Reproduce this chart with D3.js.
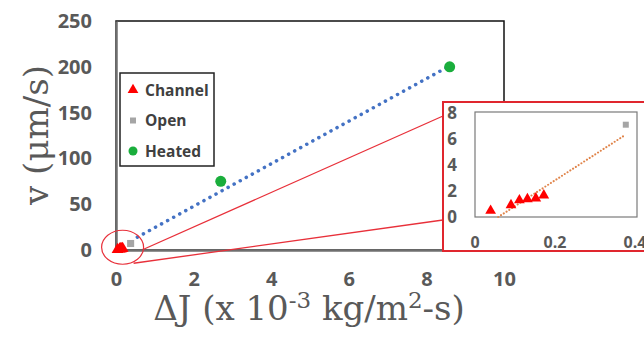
<!DOCTYPE html>
<html>
<head>
<meta charset="utf-8">
<script src="https://cdn.jsdelivr.net/npm/d3@7"></script>
<style>
  body { margin: 0; background: #fff; }
  svg { display: block; }
</style>
</head>
<body>
<div id="chart-container"></div>
<script>
// data (x in 10^-3 kg/m2-s, v in um/s)
const channelX = [0.039, 0.09, 0.111, 0.131, 0.152, 0.172];
const channelY = [0.49, 0.92, 1.3, 1.38, 1.44, 1.67];
const openX = [0.377];
const openY = [7.1];
const heatedX = [2.7, 8.6];
const heatedY = [75, 200];
const heatedTrendX = [0.55, 8.6];
const heatedTrendY = [14, 201];
const insetTrendX = [0.058, 0.375];
const insetTrendY = [0, 6.3];

const xTicks = [0, 2, 4, 6, 8, 10];
const yTicks = [0, 50, 100, 150, 200, 250];
const insetXTicks = [0, 0.2, 0.4];
const insetYTicks = [0, 2, 4, 6, 8];
const legendNames = ["Channel", "Open", "Heated"];

const W = 644, H = 345;
const grey = "#595959";
const red = "#ff0000", openCol = "#a5a5a5", green = "#1aae3c";

const svg = d3.select("#chart-container")
  .append("svg")
    .attr("width", W)
    .attr("height", H);

// main scales
const x = d3.scaleLinear().domain([0, 10]).range([116, 504]);
const y = d3.scaleLinear().domain([0, 250]).range([250, 21]);

// plot border (top/right black)
svg.append("rect")
  .attr("x", x(0)).attr("y", y(250))
  .attr("width", x(10) - x(0)).attr("height", y(0) - y(250))
  .attr("fill", "none").attr("stroke", "#111").attr("stroke-width", 1.5);

// axes
const xAxis = svg.append("g")
  .attr("transform", `translate(0,${y(0)})`)
  .call(d3.axisBottom(x).tickValues(xTicks).tickSize(0).tickPadding(22).tickFormat(d3.format("d")));
const yAxis = svg.append("g")
  .attr("transform", `translate(${x(0)},0)`)
  .call(d3.axisLeft(y).tickValues(yTicks).tickSize(0).tickPadding(24));
[xAxis, yAxis].forEach(g => {
  g.select(".domain").attr("stroke", "#6f6f6f").attr("stroke-width", 2.5);
  g.selectAll("text")
    .style("font-family", "'Open Sans', sans-serif")
    .style("font-weight", "bold")
    .style("font-size", "20px")
    .attr("fill", grey);
});

// axis titles
svg.append("text")
  .attr("transform", `translate(48,135) rotate(-90)`)
  .attr("text-anchor", "middle")
  .style("font-family", "'DejaVu Serif', serif")
  .style("font-size", "34px")
  .attr("fill", grey)
  .text("v (\u03bcm/s)");

const xt = svg.append("text")
  .attr("x", 309).attr("y", 320)
  .attr("text-anchor", "middle")
  .style("font-family", "'DejaVu Serif', serif")
  .style("font-size", "34px")
  .attr("fill", grey);
xt.append("tspan").text("\u0394J (x 10");
xt.append("tspan").attr("dy", -12).style("font-size", "23px").text("-3");
xt.append("tspan").attr("dy", 12).text(" kg/m");
xt.append("tspan").attr("dy", -12).style("font-size", "23px").text("2");
xt.append("tspan").attr("dy", 12).text("-s)");

// heated trendline
const line = d3.line().x(d => x(d[0])).y(d => y(d[1]));
svg.append("path")
  .datum(d3.zip(heatedTrendX, heatedTrendY))
  .attr("fill", "none")
  .attr("stroke", "#4472c4")
  .attr("stroke-width", 3.5)
  .attr("stroke-linecap", "round")
  .attr("stroke-dasharray", "0.1 6.8")
  .attr("d", line);

const tri = d3.symbol().type(d3.symbolTriangle);
const sq = d3.symbol().type(d3.symbolSquare);

// main markers
svg.selectAll(".ch")
  .data(d3.zip(channelX, channelY))
  .join("path")
    .attr("transform", d => `translate(${x(d[0])},${y(d[1])})`)
    .attr("d", tri.size(60))
    .attr("fill", red);
svg.selectAll(".op")
  .data(d3.zip(openX, openY))
  .join("path")
    .attr("transform", d => `translate(${x(d[0])},${y(d[1])})`)
    .attr("d", sq.size(50))
    .attr("fill", openCol);
svg.selectAll(".ht")
  .data(d3.zip(heatedX, heatedY))
  .join("circle")
    .attr("cx", d => x(d[0])).attr("cy", d => y(d[1]))
    .attr("r", 5.5)
    .attr("fill", green);

// legend
const lg = svg.append("g");
lg.append("rect")
  .attr("x", 120).attr("y", 73).attr("width", 94).attr("height", 93)
  .attr("fill", "#fff").attr("stroke", "#222").attr("stroke-width", 1.5);
legendNames.forEach((name, i) => {
  const cy = 90 + i * 30.5;
  if (i === 0) lg.append("path").attr("transform", `translate(133,${cy})`).attr("d", tri.size(50)).attr("fill", red);
  if (i === 1) lg.append("path").attr("transform", `translate(133,${cy})`).attr("d", sq.size(36)).attr("fill", openCol);
  if (i === 2) lg.append("circle").attr("cx", 133).attr("cy", cy).attr("r", 4.5).attr("fill", green);
  lg.append("text")
    .attr("x", 145).attr("y", cy).attr("dy", "0.36em")
    .style("font-family", "'Open Sans', sans-serif")
    .style("font-weight", "bold")
    .style("font-size", "15.5px")
    .attr("fill", "#404040")
    .text(name);
});

// inset scales
const ix = d3.scaleLinear().domain([0, 0.4]).range([475, 635]);
const iy = d3.scaleLinear().domain([0, 8]).range([217, 113]);

// zoom ellipse + connectors
const ecx = x(0.17), ecy = y(3);
svg.append("ellipse")
  .attr("cx", ecx).attr("cy", ecy).attr("rx", 21).attr("ry", 17)
  .attr("fill", "none").attr("stroke", "#e8303a").attr("stroke-width", 1.2);
svg.append("line")
  .attr("x1", ecx + 21).attr("y1", ecy + 2)
  .attr("x2", 443).attr("y2", iy(8) + 3)
  .attr("stroke", "#e8303a").attr("stroke-width", 1.3);
svg.append("line")
  .attr("x1", ecx + 11).attr("y1", ecy + 16)
  .attr("x2", 443).attr("y2", iy(0) + 3)
  .attr("stroke", "#e8303a").attr("stroke-width", 1.3);

// inset panel
const ins = svg.append("g");
ins.append("rect")
  .attr("x", 443).attr("y", 102).attr("width", 215).attr("height", 149)
  .attr("fill", "#fff").attr("stroke", "#e0262e").attr("stroke-width", 2);
ins.append("rect")
  .attr("x", ix(0)).attr("y", iy(8) - 1)
  .attr("width", ix(0.4) + 2 - ix(0)).attr("height", iy(0) - iy(8) + 1)
  .attr("fill", "none").attr("stroke", "#7a7a7a").attr("stroke-width", 1.2);

ins.selectAll(".iyt")
  .data(insetYTicks)
  .join("text")
    .attr("x", 457).attr("y", d => iy(d)).attr("dy", "0.36em")
    .attr("text-anchor", "end")
    .style("font-family", "'Open Sans', sans-serif")
    .style("font-weight", "bold")
    .style("font-size", "17px")
    .attr("fill", grey)
    .text(d => d);
ins.selectAll(".ixt")
  .data(insetXTicks)
  .join("text")
    .attr("x", d => ix(d)).attr("y", 242).attr("dy", "0.36em")
    .attr("text-anchor", "middle")
    .style("font-family", "'Open Sans', sans-serif")
    .style("font-weight", "bold")
    .style("font-size", "16px")
    .attr("fill", grey)
    .text(d => d);

const iline = d3.line().x(d => ix(d[0])).y(d => iy(d[1]));
ins.append("path")
  .datum(d3.zip(insetTrendX, insetTrendY))
  .attr("fill", "none")
  .attr("stroke", "#e0844a")
  .attr("stroke-width", 2)
  .attr("stroke-linecap", "round")
  .attr("stroke-dasharray", "0.1 3.2")
  .attr("d", iline);

ins.selectAll(".ich")
  .data(d3.zip(channelX, channelY))
  .join("path")
    .attr("transform", d => `translate(${ix(d[0])},${iy(d[1])})`)
    .attr("d", tri.size(50))
    .attr("fill", red);
ins.selectAll(".iop")
  .data(d3.zip(openX, openY))
  .join("path")
    .attr("transform", d => `translate(${ix(d[0])},${iy(d[1])})`)
    .attr("d", sq.size(36))
    .attr("fill", openCol);
</script>
</body>
</html>
